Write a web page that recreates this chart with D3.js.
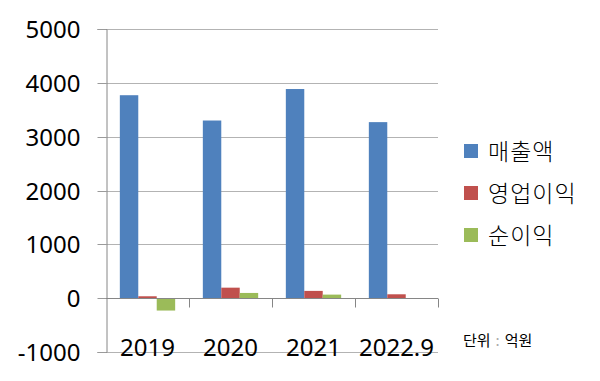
<!DOCTYPE html>
<html>
<head>
<meta charset="utf-8">
<script src="https://cdn.jsdelivr.net/npm/d3@7"></script>
<style>
  body { margin: 0; background: #fff; }
  svg { display: block; }
</style>
</head>
<body>
<svg id="chart" width="600" height="381"></svg>
<script>
const categories = ["2019", "2020", "2021", "2022.9"];
const seriesNames = ["매출액", "영업이익", "순이익"];
const sales = [3770, 3300, 3885, 3270];
const operatingProfit = [35, 195, 135, 72];
const netProfit = [-230, 97, 66, -15];
const yTicks = [-1000, 0, 1000, 2000, 3000, 4000, 5000];
const unitLabelParts = ["단위", ":", "억원"];

const colors = ["#4F81BD", "#C0504D", "#9BBB59"];
const seriesValues = [sales, operatingProfit, netProfit];

const svg = d3.select("#chart");
const plotLeft = 106, plotRight = 438, plotTop = 29, plotBottom = 352;

const y = d3.scaleLinear().domain([-1000, 5000]).range([plotBottom, plotTop]);
const x0 = d3.scaleBand().domain(categories).range([plotLeft, plotRight]).paddingInner(0).paddingOuter(0);
const x1 = d3.scaleBand().domain(seriesNames).range([0, x0.bandwidth()]).paddingInner(0).paddingOuter(0.75);

const font = "'Noto Sans', 'Noto Sans CJK KR', sans-serif";
const krFont = "'Noto Sans CJK KR', sans-serif";

// gridlines
svg.append("g").selectAll("line").data(yTicks).join("line")
  .attr("x1", plotLeft).attr("x2", plotRight)
  .attr("y1", d => Math.round(y(d)) + 0.5).attr("y2", d => Math.round(y(d)) + 0.5)
  .attr("stroke", "#b3b3b3").attr("stroke-width", 1);

// y axis
const yAxis = d3.axisLeft(y).tickValues(yTicks).tickSize(9).tickPadding(17).tickFormat(d => String(d));
const gy = svg.append("g").attr("transform", `translate(${plotLeft + 0.5},0)`).call(yAxis);
gy.select(".domain").attr("stroke", "#868686");
gy.selectAll(".tick line").attr("stroke", "#9a9a9a");
gy.selectAll(".tick").attr("transform", d => `translate(0,${Math.round(y(d)) + 0.5})`);
gy.selectAll(".tick text").attr("font-family", font).attr("font-size", 24).attr("fill", "#000").attr("dy", "0.36em");

// bars
const rows = categories.map((c, i) => ({ cat: c, vals: seriesNames.map((s, j) => ({ s, v: seriesValues[j][i], j })) }));
svg.append("g").selectAll("g").data(rows).join("g")
  .attr("transform", d => `translate(${x0(d.cat)},0)`)
  .selectAll("rect").data(d => d.vals).join("rect")
  .attr("x", d => x1(d.s))
  .attr("width", x1.bandwidth())
  .attr("y", d => y(Math.max(0, d.v)))
  .attr("height", d => Math.abs(y(d.v) - y(0)))
  .attr("fill", d => colors[d.j]);

// x axis line at zero and category ticks
const zeroY = Math.round(y(0)) + 0.5;
svg.append("line").attr("x1", plotLeft).attr("x2", plotRight).attr("y1", zeroY).attr("y2", zeroY)
  .attr("stroke", "#868686");
svg.append("g").selectAll("line").data(categories).join("line")
  .attr("x1", d => Math.round(x0(d) + x0.bandwidth()) + 0.5)
  .attr("x2", d => Math.round(x0(d) + x0.bandwidth()) + 0.5)
  .attr("y1", zeroY).attr("y2", zeroY + 9)
  .attr("stroke", "#868686");

// category labels
svg.append("g").selectAll("text").data(categories).join("text")
  .attr("x", d => x0(d) + x0.bandwidth() / 2)
  .attr("y", 356)
  .attr("text-anchor", "middle")
  .attr("font-family", font).attr("font-size", 24).attr("fill", "#000")
  .text(d => d);

// legend
const lg = svg.append("g").selectAll("g").data(seriesNames).join("g")
  .attr("transform", (d, i) => `translate(464,${152 + i * 42})`);
lg.append("rect").attr("x", 0).attr("y", -8).attr("width", 14).attr("height", 14)
  .attr("fill", (d, i) => colors[i]);
lg.append("text").attr("x", 24).attr("y", 0).attr("dy", "0.36em")
  .attr("font-family", krFont).attr("font-size", 23).attr("font-weight", 300)
  .attr("letter-spacing", 1).attr("fill", "#000")
  .text(d => d);

// unit label
const ut = svg.append("text").attr("x", 463).attr("y", 346)
  .attr("font-family", krFont).attr("font-size", 15).attr("fill", "#000");
ut.selectAll("tspan").data(unitLabelParts).join("tspan")
  .attr("dx", (d, i) => i === 0 ? 0 : 5)
  .attr("fill", (d, i) => i === 1 ? "#aaaaaa" : "#000")
  .text(d => d);
</script>
</body>
</html>
